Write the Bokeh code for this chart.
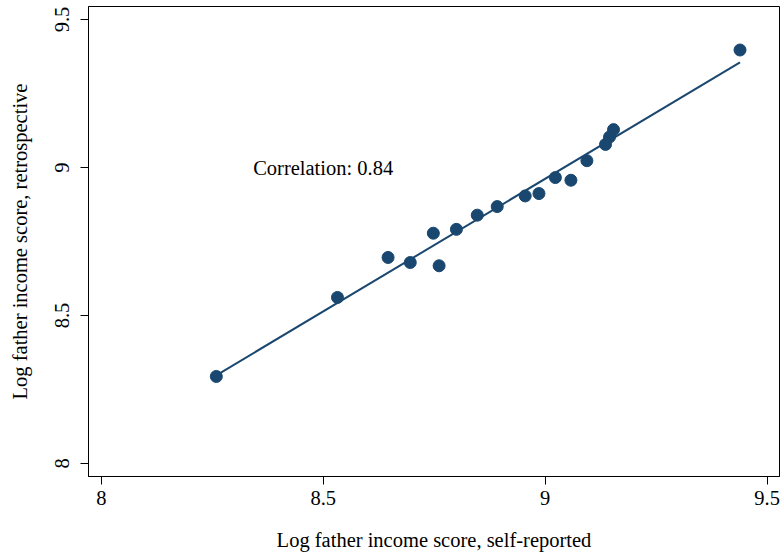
from bokeh.plotting import figure
from bokeh.models import Range1d, FixedTicker, ColumnDataSource
from bokeh.core.properties import value
from bokeh.embed import file_html
from bokeh.resources import INLINE

# Data
self_reported = [8.259, 8.532, 8.646, 8.696, 8.748, 8.761, 8.800, 8.847, 8.892,
                 8.955, 8.986, 9.023, 9.058, 9.094, 9.136, 9.145, 9.154, 9.439]
retrospective = [8.294, 8.561, 8.696, 8.679, 8.778, 8.668, 8.791, 8.839, 8.868,
                 8.904, 8.912, 8.966, 8.957, 9.023, 9.078, 9.103, 9.128, 9.397]
fit_x = [8.259, 9.439]
fit_y = [8.298, 9.355]
tick_vals = [8, 8.5, 9, 9.5]
tick_labels = ["8", "8.5", "9", "9.5"]
annotation_x = [8.342]
annotation_y = [9.0]
annotation_text = ["Correlation: 0.84"]

NAVY = "#1a476f"
FONT = "Liberation Serif"
FS = "20.5px"

p = figure(width=780, height=554, output_backend="svg", toolbar_location=None,
           x_range=Range1d(7.971, 9.528), y_range=Range1d(7.956, 9.544),
           min_border_left=88, min_border_right=1, min_border_top=6, min_border_bottom=78)

p.background_fill_color = "white"
p.border_fill_color = "white"
p.outline_line_color = "black"
p.outline_line_width = 1
p.xgrid.visible = False
p.ygrid.visible = False

p.line(fit_x, fit_y, line_color=NAVY, line_width=2)
p.scatter(self_reported, retrospective, size=12, fill_color=NAVY, line_color=NAVY)

src = ColumnDataSource(dict(x=annotation_x, y=annotation_y, t=annotation_text))
p.text(x="x", y="y", text="t", source=src, text_font=value(FONT), text_font_size=FS,
       text_align="left", text_baseline="middle", text_color="black")

overrides = {v: l for v, l in zip(tick_vals, tick_labels)}
for ax in (p.xaxis[0], p.yaxis[0]):
    ax.ticker = FixedTicker(ticks=tick_vals)
    ax.major_label_overrides = overrides
    ax.minor_tick_line_color = None
    ax.major_tick_in = 0
    ax.major_tick_out = 8
    ax.major_tick_line_color = "black"
    ax.axis_line_color = "black"
    ax.major_label_text_font = FONT
    ax.major_label_text_font_size = FS
    ax.major_label_text_color = "black"
    ax.axis_label_text_font = FONT
    ax.axis_label_text_font_size = FS
    ax.axis_label_text_font_style = "normal"
    ax.axis_label_text_color = "black"

p.xaxis.axis_label = "Log father income score, self-reported"
p.yaxis.axis_label = "Log father income score, retrospective"
p.yaxis.major_label_orientation = "vertical"
p.xaxis.major_label_standoff = 6
p.yaxis.major_label_standoff = 11
p.xaxis.axis_label_standoff = 21
p.yaxis.axis_label_standoff = 22

open("out.html", "w").write(file_html(p, INLINE))
